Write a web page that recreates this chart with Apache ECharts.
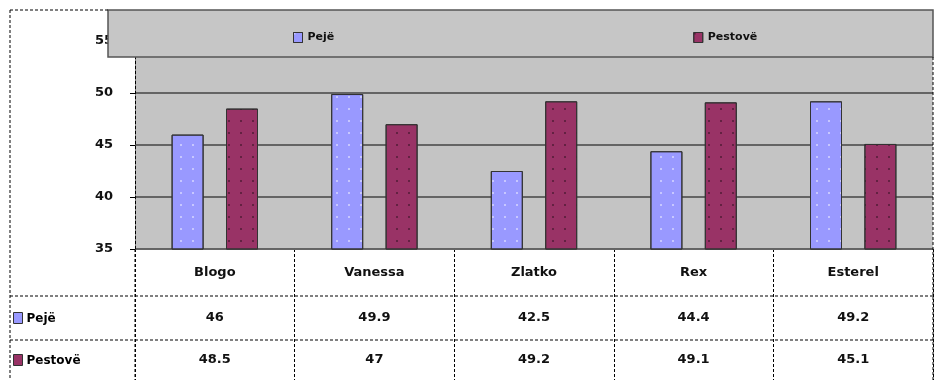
<!DOCTYPE html>
<html>
<head>
<meta charset="utf-8">
<script src="https://cdn.jsdelivr.net/npm/echarts@6/dist/echarts.min.js"></script>
<style>
  html, body { margin: 0; padding: 0; background: #fff; }
  #chart { width: 937px; height: 380px; }
</style>
</head>
<body>
<div id="chart"></div>
<script>
const categories = ['Blogo', 'Vanessa', 'Zlatko', 'Rex', 'Esterel'];
const peje = [46, 49.9, 42.5, 44.4, 49.2];
const pestove = [48.5, 47, 49.2, 49.1, 45.1];
const seriesNames = ['Pejë', 'Pestovë'];
const colors = ['#9999ff', '#993366'];

const font = 'DejaVu Sans';
const chart = echarts.init(document.getElementById('chart'));

// table under the plot: category, then one row per series
function tableLabel(value, idx) {
  return '{a|' + value + '}\n{b|' + peje[idx] + '}\n{c|' + pestove[idx] + '}';
}

function rowKey(y, color, name) {
  return {
    type: 'group', left: 13, top: y,
    children: [
      { type: 'rect', shape: { x: 0, y: 0, width: 9, height: 11 },
        style: { fill: color, stroke: '#333', lineWidth: 1 } },
      { type: 'text', x: 13, y: 6,
        style: { text: name, fill: '#000', font: 'bold 12px "' + font + '"', verticalAlign: 'middle' } }
    ]
  };
}

const dash = { stroke: '#000', lineWidth: 1, lineDash: [3, 2] };

const option = {
  animation: false,
  textStyle: { fontFamily: font },
  grid: [
    { left: 135, right: 4, top: 41, height: 208, show: true,
      backgroundColor: '#c4c4c4', borderWidth: 0 },
    { left: 135, right: 4, top: 249, bottom: 0 }
  ],
  legend: {
    data: seriesNames,
    left: 288, top: 27, z: 10,
    icon: 'rect', itemWidth: 9, itemHeight: 10, itemGap: 359,
    itemStyle: { borderColor: '#333', borderWidth: 1 },
    textStyle: { fontFamily: font, fontWeight: 'bold', fontSize: 11, color: '#111' }
  },
  xAxis: [
    { type: 'category', gridIndex: 0, data: categories,
      axisLine: { lineStyle: { color: '#666' } },
      axisTick: { show: false }, axisLabel: { show: false } },
    { type: 'category', gridIndex: 1, data: categories, position: 'top',
      axisLine: { show: false }, axisTick: { show: false },
      splitLine: { show: true, lineStyle: { color: '#000', type: [3, 2] } },
      axisLabel: {
        inside: true, margin: 0, interval: 0, verticalAlign: 'top',
        formatter: tableLabel,
        rich: {
          a: { fontFamily: font, fontWeight: 'bold', fontSize: 13, color: '#111', lineHeight: 47 },
          b: { fontFamily: font, fontWeight: 'bold', fontSize: 13, color: '#111', lineHeight: 44 },
          c: { fontFamily: font, fontWeight: 'bold', fontSize: 13, color: '#111', lineHeight: 40 }
        }
      } }
  ],
  yAxis: [
    { type: 'value', gridIndex: 0, min: 35, max: 55, interval: 5,
      axisLine: { show: true, lineStyle: { color: '#000', type: [3, 2] } },
      axisTick: { show: true, length: 5, lineStyle: { color: '#000' } },
      axisLabel: { margin: 22, fontFamily: font, fontWeight: 'bold', fontSize: 13, color: '#111' },
      splitLine: { lineStyle: { color: '#444', width: 1.5 } } },
    { type: 'value', gridIndex: 1, show: false }
  ],
  series: [
    { name: seriesNames[0], type: 'bar', data: peje, barWidth: 32, barGap: '70%',
      itemStyle: { color: colors[0], borderColor: '#333', borderWidth: 1,
        decal: { symbol: 'rect', symbolSize: 1, dashArrayX: [[2, 10]], dashArrayY: [2, 10],
          color: 'rgba(255,255,255,0.45)' } } },
    { name: seriesNames[1], type: 'bar', data: pestove, barWidth: 32,
      itemStyle: { color: colors[1], borderColor: '#333', borderWidth: 1,
        decal: { symbol: 'rect', symbolSize: 1, dashArrayX: [[2, 10]], dashArrayY: [2, 10],
          color: 'rgba(0,0,0,0.35)' } } }
  ],
  graphic: [
    // legend box laid over the top of the plot
    { type: 'rect', z: 5, shape: { x: 108, y: 10, width: 825, height: 47 },
      style: { fill: '#c6c6c6', stroke: '#555', lineWidth: 1.5 } },
    // outer dotted frame and table rows
    { type: 'line', z: 6, shape: { x1: 10, y1: 10, x2: 108, y2: 10 }, style: dash },
    { type: 'line', z: 6, shape: { x1: 10, y1: 10, x2: 10, y2: 380 }, style: dash },
    { type: 'line', z: 6, shape: { x1: 933, y1: 57, x2: 933, y2: 380 }, style: dash },
    { type: 'line', z: 6, shape: { x1: 10, y1: 296, x2: 933, y2: 296 }, style: dash },
    { type: 'line', z: 6, shape: { x1: 10, y1: 340, x2: 933, y2: 340 }, style: dash },
    { type: 'line', z: 6, shape: { x1: 135, y1: 249, x2: 135, y2: 380 }, style: dash },
    rowKey(312, colors[0], seriesNames[0]),
    rowKey(354, colors[1], seriesNames[1])
  ]
};

chart.setOption(option);
</script>
</body>
</html>
